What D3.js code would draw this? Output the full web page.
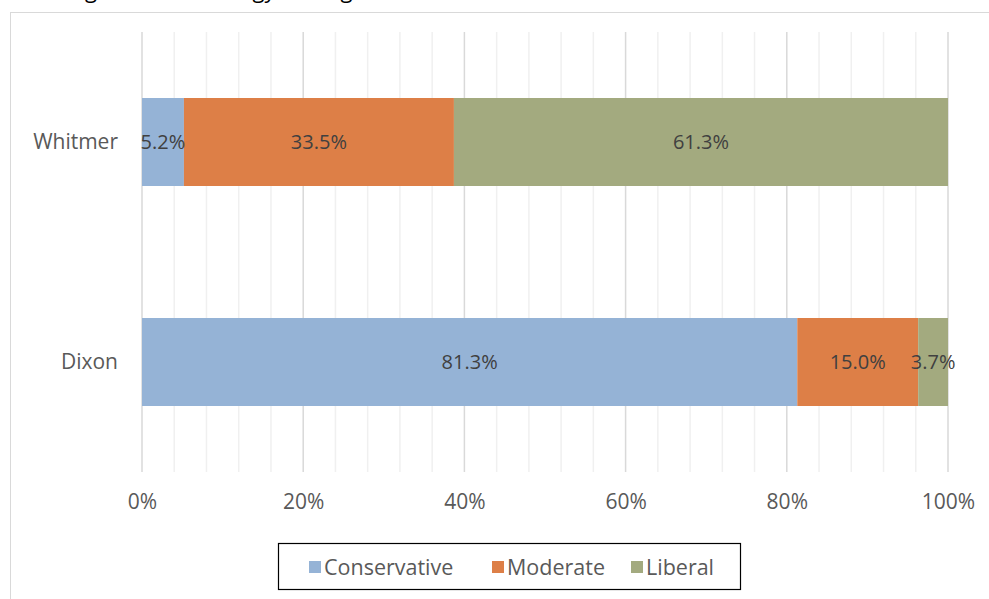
<!DOCTYPE html>
<html><head><meta charset="utf-8">
<script src="https://cdn.jsdelivr.net/npm/d3@7"></script>
<style>body{margin:0;background:#fff}svg{display:block}</style>
</head><body>
<svg id="c" width="989" height="599"></svg>
<script>
const title = "Michigan Race: Ideology among Voters";
const categories = ["Whitmer", "Dixon"];
const seriesNames = ["Conservative", "Moderate", "Liberal"];
const conservative = [5.2, 81.3];
const moderate = [33.5, 15.0];
const liberal = [61.3, 3.7];
const tickValues = [0, 20, 40, 60, 80, 100];
const colors = ["#95b3d6", "#dd7f47", "#a3aa7f"];

const svg = d3.select("#c");
const font = "'Open Sans', sans-serif";
// title (cropped at top edge, as in the reference)
svg.append("text").attr("x", 30).attr("y", -2.5).attr("font-family", font).attr("font-size", 22).attr("fill", "#000").text(title);
// frame
svg.append("rect").attr("x", 10.5).attr("y", 12.5).attr("width", 1000).attr("height", 700).attr("fill", "none").attr("stroke", "#d9d9d9");

const x = d3.scaleLinear().domain([0, 100]).range([142, 948]);
const y = d3.scaleBand().domain(categories).range([32, 472]).paddingInner(0.6).paddingOuter(0.3);

// gridlines
const minor = d3.range(0, 101, 4);
svg.append("g").selectAll("line").data(minor).join("line")
  .attr("x1", d => x(d)).attr("x2", d => x(d)).attr("y1", 32).attr("y2", 472)
  .attr("stroke", d => d % 20 === 0 ? "#d9d9d9" : "#f0f0f0").attr("stroke-width", 1.5);

const data = categories.map((c, i) => ({cat: c, vals: [conservative[i], moderate[i], liberal[i]]}));
const stack = [];
data.forEach(d => { let acc = 0; d.vals.forEach((v, j) => { stack.push({cat: d.cat, j, x0: acc, x1: acc + v, v}); acc += v; }); });

svg.append("g").selectAll("rect").data(stack).join("rect")
  .attr("x", d => x(d.x0)).attr("width", d => x(d.x1) - x(d.x0))
  .attr("y", d => y(d.cat)).attr("height", y.bandwidth())
  .attr("fill", d => colors[d.j]);

svg.append("g").selectAll("text").data(stack).join("text")
  .attr("x", d => (x(d.x0) + x(d.x1)) / 2).attr("y", d => y(d.cat) + y.bandwidth() / 2)
  .attr("dy", "0.35em").attr("text-anchor", "middle")
  .attr("font-family", font).attr("font-size", 20).attr("fill", "#404040")
  .text(d => d.v.toFixed(1) + "%");

// category axis labels
svg.append("g").selectAll("text").data(categories).join("text")
  .attr("x", 118).attr("y", d => y(d) + y.bandwidth() / 2).attr("dy", "0.35em")
  .attr("text-anchor", "end").attr("font-family", font).attr("font-size", 21).attr("fill", "#595959")
  .text(d => d);

// x axis
const xa = svg.append("g").attr("transform", "translate(0,472)")
  .call(d3.axisBottom(x).tickValues(tickValues).tickSize(0).tickPadding(22).tickFormat(d => d + "%"));
xa.select(".domain").remove();
xa.selectAll("text").attr("font-family", font).attr("font-size", 21).attr("fill", "#595959");

// legend
const lg = svg.append("g");
lg.append("rect").attr("x", 278.5).attr("y", 543.5).attr("width", 462).attr("height", 46).attr("fill", "#fff").attr("stroke", "#000").attr("stroke-width", 1.2);
const legX = [309, 492, 631];
seriesNames.forEach((n, i) => {
  lg.append("rect").attr("x", legX[i]).attr("y", 561).attr("width", 12).attr("height", 12).attr("fill", colors[i]);
  lg.append("text").attr("x", legX[i] + 15).attr("y", 567).attr("dy", "0.35em")
    .attr("font-family", font).attr("font-size", 21.5).attr("fill", "#595959").text(n);
});
</script>
</body></html>
